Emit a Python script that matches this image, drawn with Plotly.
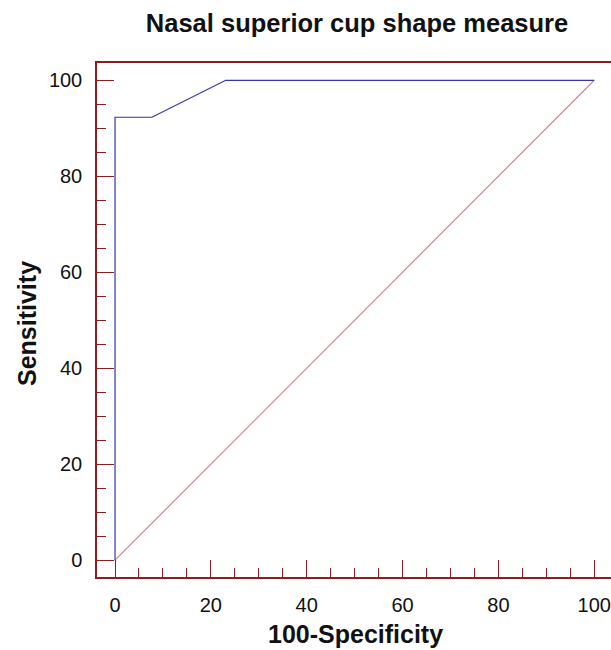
import plotly.graph_objects as go

# ROC curve points (100-Specificity, Sensitivity)
roc_x = [0, 0, 7.7, 23.1, 100]
roc_y = [0, 92.3, 92.3, 100, 100]
# Reference diagonal
diag_x = [0, 100]
diag_y = [0, 100]

title_text = "Nasal superior cup shape measure"
x_title = "100-Specificity"
y_title = "Sensitivity"

axis_col = "#8b1f1f"
font_fam = "Liberation Sans, Arial, sans-serif"

fig = go.Figure()
fig.add_trace(go.Scatter(x=diag_x, y=diag_y, mode="lines",
                         line=dict(color="#c98c8c", width=1.2), showlegend=False))
fig.add_trace(go.Scatter(x=roc_x, y=roc_y, mode="lines",
                         line=dict(color="#3535a5", width=1.2), showlegend=False))

common = dict(
    showgrid=False, zeroline=False, showline=True, linecolor=axis_col, linewidth=1.5,
    ticks="inside", ticklen=17, tickwidth=1.2, tickcolor=axis_col,
    tick0=0, dtick=20, automargin=False,
    minor=dict(ticks="inside", ticklen=9, tickwidth=1.2, tickcolor=axis_col, dtick=5),
    tickfont=dict(family=font_fam, size=20, color="#111111"),
)

fig.update_layout(
    width=611, height=650,
    margin=dict(l=97, r=0, t=63, b=73, autoexpand=False),
    paper_bgcolor="white", plot_bgcolor="white",
    title=dict(text="<b>" + title_text + "</b>", x=(357 - 97) / 514, xref="paper",
               xanchor="center",
               y=1 - 23 / 650, yref="container", yanchor="middle",
               font=dict(family=font_fam, size=25.5, color="#111111")),
    xaxis=dict(range=[-3.76, 103.5], mirror=True, ticklabelstandoff=9, **common),
    yaxis=dict(range=[-3.5, 103.6], ticklabelstandoff=9, **common),
    annotations=[
        dict(text="<b>" + x_title + "</b>", xref="paper", yref="paper",
             x=(355 - 97) / 514, y=(577 - 634) / 514, xanchor="center", yanchor="middle",
             showarrow=False, font=dict(family=font_fam, size=25, color="#111111")),
        dict(text="<b>" + y_title + "</b>", xref="paper", yref="paper",
             x=(27 - 97) / 514, y=(577 - 324) / 514, xanchor="center", yanchor="middle",
             textangle=-90, showarrow=False,
             font=dict(family=font_fam, size=25, color="#111111")),
    ],
)

fig.write_html("out.html", config={"displayModeBar": False},
               post_script="document.body.style.margin='0';document.body.style.overflow='hidden';")
